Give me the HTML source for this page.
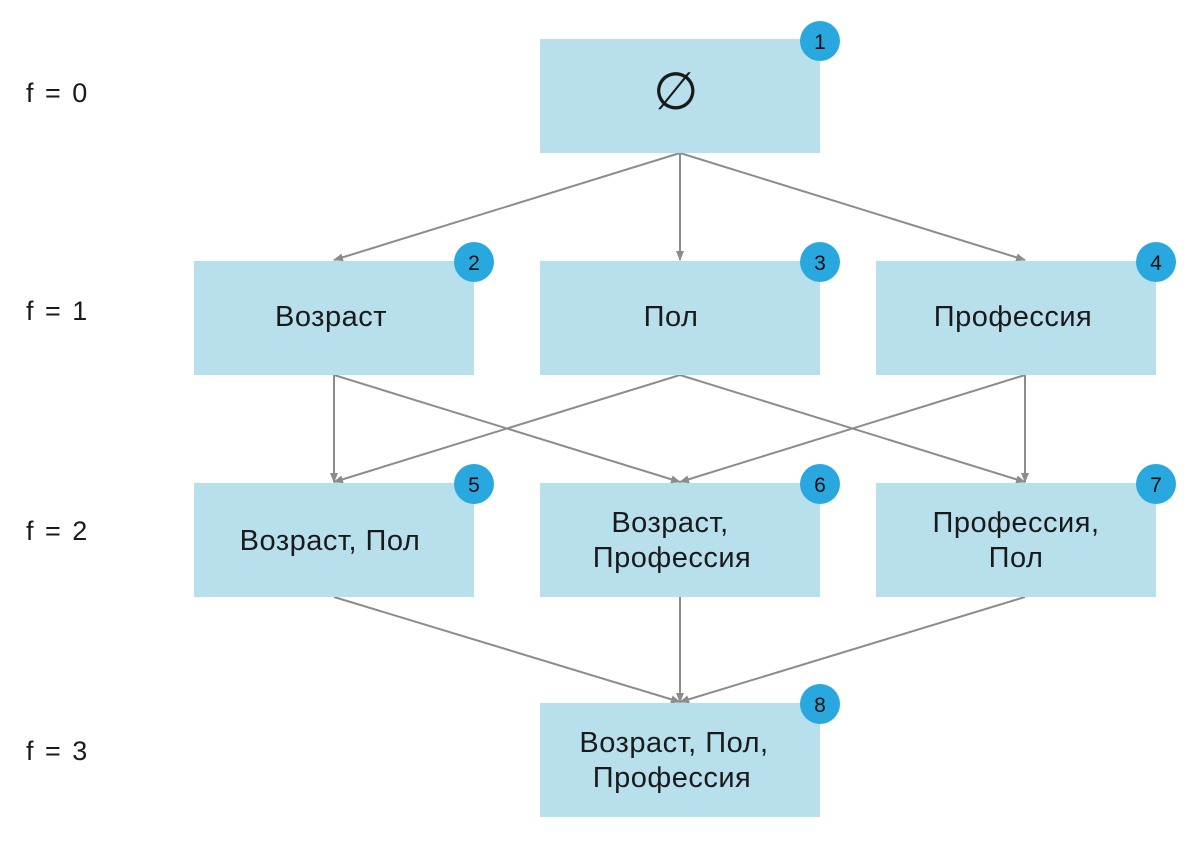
<!DOCTYPE html>
<html><head><meta charset="utf-8"><style>
html,body{margin:0;padding:0;background:#fff;}
svg text{font-family:"Liberation Sans",sans-serif;}
</style></head><body>
<svg width="1200" height="837" viewBox="0 0 1200 837" xmlns="http://www.w3.org/2000/svg">
<defs><marker id="a" markerWidth="10" markerHeight="8" refX="9" refY="4" orient="auto" markerUnits="userSpaceOnUse"><path d="M0,0 L10,4 L0,8 z" fill="#8c8c8c"/></marker></defs>
<g stroke="#8c8c8c" stroke-width="2" fill="none" marker-end="url(#a)">
<line x1="680" y1="153" x2="334" y2="260"/>
<line x1="680" y1="153" x2="680" y2="260"/>
<line x1="680" y1="153" x2="1025" y2="260"/>
<line x1="334" y1="375" x2="334" y2="482"/>
<line x1="334" y1="375" x2="680" y2="482"/>
<line x1="680" y1="375" x2="334" y2="482"/>
<line x1="680" y1="375" x2="1025" y2="482"/>
<line x1="1025" y1="375" x2="680" y2="482"/>
<line x1="1025" y1="375" x2="1025" y2="482"/>
<line x1="334" y1="597" x2="680" y2="702"/>
<line x1="680" y1="597" x2="680" y2="702"/>
<line x1="1025" y1="597" x2="680" y2="702"/>
</g>
<g fill="#b8e0ec">
<rect x="540" y="39" width="280" height="114"/>
<rect x="194" y="261" width="280" height="114"/>
<rect x="540" y="261" width="280" height="114"/>
<rect x="876" y="261" width="280" height="114"/>
<rect x="194" y="483" width="280" height="114"/>
<rect x="540" y="483" width="280" height="114"/>
<rect x="876" y="483" width="280" height="114"/>
<rect x="540" y="703" width="280" height="114"/>
</g>
<g fill="#29a8e0">
<circle cx="820" cy="41" r="20"/><circle cx="474" cy="262" r="20"/><circle cx="820" cy="262" r="20"/><circle cx="1156" cy="262" r="20"/>
<circle cx="474" cy="484" r="20"/><circle cx="820" cy="484" r="20"/><circle cx="1156" cy="484" r="20"/><circle cx="820" cy="704" r="20"/>
</g>
<g font-size="21" text-anchor="middle" fill="#111">
<text x="820" y="49">1</text><text x="474" y="270">2</text><text x="820" y="270">3</text><text x="1156" y="270">4</text>
<text x="474" y="492">5</text><text x="820" y="492">6</text><text x="1156" y="492">7</text><text x="820" y="712">8</text>
</g>
<g font-size="29" text-anchor="middle" fill="#1a1a1a" letter-spacing="0.5">
<text x="676" y="109" font-size="52">∅</text>
<text x="331" y="326">Возраст</text><text x="671" y="326">Пол</text><text x="1013" y="326">Профессия</text>
<text x="330" y="550">Возраст, Пол</text>
<text x="670" y="532">Возраст,</text><text x="672" y="567">Профессия</text>
<text x="1016" y="532">Профессия,</text><text x="1016" y="567">Пол</text>
<text x="674" y="752">Возраст, Пол,</text><text x="672" y="787">Профессия</text>
</g>
<g font-size="27" fill="#1a1a1a" word-spacing="4">
<text x="26" y="102">f = 0</text><text x="26" y="320">f = 1</text><text x="26" y="540">f = 2</text><text x="26" y="760">f = 3</text>
</g>
</svg>
</body></html>
